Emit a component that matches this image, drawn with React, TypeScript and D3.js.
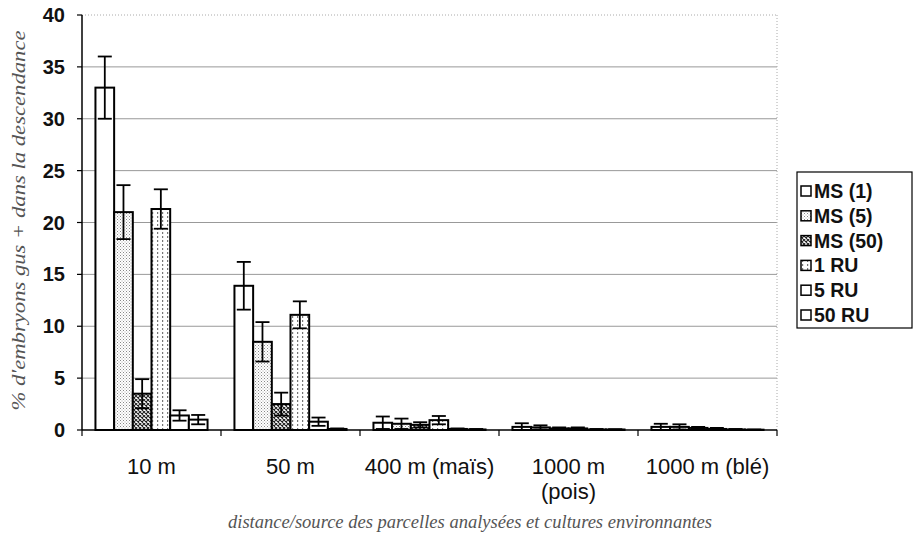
import React from "react";
import * as d3 from "d3";

const categories = ["10 m", "50 m", "400 m (maïs)", "1000 m|(pois)", "1000 m (blé)"];
const seriesNames = ["MS (1)", "MS (5)", "MS (50)", "1 RU", "5 RU", "50 RU"];
const ms1 = [33, 13.9, 0.7, 0.3, 0.3];
const ms1Err = [3, 2.3, 0.6, 0.35, 0.3];
const ms5 = [21, 8.5, 0.6, 0.25, 0.3];
const ms5Err = [2.6, 1.9, 0.5, 0.2, 0.25];
const ms50 = [3.5, 2.5, 0.5, 0.15, 0.2];
const ms50Err = [1.4, 1.1, 0.25, 0.1, 0.1];
const ru1 = [21.3, 11.1, 0.95, 0.15, 0.1];
const ru1Err = [1.9, 1.3, 0.4, 0.1, 0.1];
const ru5 = [1.4, 0.8, 0.1, 0.05, 0.05];
const ru5Err = [0.5, 0.4, 0.05, 0.05, 0.05];
const ru50 = [1.0, 0.1, 0.05, 0.05, 0.03];
const ru50Err = [0.45, 0.05, 0.05, 0.02, 0.02];
const yTicks = [0, 5, 10, 15, 20, 25, 30, 35, 40];

const seriesValues = [ms1, ms5, ms50, ru1, ru5, ru50];
const seriesErrors = [ms1Err, ms5Err, ms50Err, ru1Err, ru5Err, ru50Err];
const fills = ["#fff", "url(#pDots)", "url(#pHatch)", "url(#pVert)", "#fff", "#fff"];

export default function App() {
  const W = 916, H = 544;
  const left = 82, right = 777, top = 15, bottom = 430;
  const x0 = d3.scaleBand<string>().domain(categories).range([left, right]).padding(0);
  const x1 = d3.scaleBand<string>().domain(seriesNames).range([0, x0.bandwidth()]).paddingInner(0).paddingOuter(0.72);
  const y = d3.scaleLinear().domain([0, 40]).range([bottom, top]);
  const bw = x1.bandwidth();
  const capW = bw * 0.75;
  const sans = "'Liberation Sans', Arial, sans-serif";
  const serif = "'Liberation Serif', 'DejaVu Serif', 'Times New Roman', serif";
  const boundaries = categories.map((c) => x0(c) as number).concat([right]);

  return (
    <svg width={W} height={H} style={{ position: "absolute", left: 0, top: 0, background: "#fff" }}>
      <defs>
        <pattern id="pDots" width="3" height="3" patternUnits="userSpaceOnUse">
          <rect width="3" height="3" fill="#fff" />
          <rect x="0" y="0" width="1" height="1" fill="#888" />
          <rect x="1.5" y="1.5" width="1" height="1" fill="#aaa" />
        </pattern>
        <pattern id="pHatch" width="4" height="4" patternUnits="userSpaceOnUse">
          <rect width="4" height="4" fill="#fff" />
          <path d="M0,0 L4,4 M4,0 L0,4" stroke="#222" strokeWidth="1.1" />
        </pattern>
        <pattern id="pVert" width="5" height="4" patternUnits="userSpaceOnUse">
          <rect width="5" height="4" fill="#fff" />
          <rect x="2" y="0" width="1.2" height="2" fill="#777" />
        </pattern>
      </defs>

      {/* grid */}
      {yTicks.filter((t) => t > 0 && t < 40).map((t) => (
        <line key={t} x1={left} x2={right} y1={y(t)} y2={y(t)} stroke="#999" strokeWidth={1} />
      ))}
      <line x1={left} x2={right} y1={y(40)} y2={y(40)} stroke="#aaa" strokeWidth={1} strokeDasharray="1,2" />
      <line x1={right} x2={right} y1={y(40)} y2={bottom} stroke="#aaa" strokeWidth={1} strokeDasharray="1,2" />

      {/* bars */}
      {seriesNames.map((s, si) => (
        <g key={s}>
          {categories.map((c, ci) => {
            const v = seriesValues[si][ci];
            const e = seriesErrors[si][ci];
            const bx = (x0(c) as number) + (x1(s) as number);
            const cx = bx + bw / 2;
            return (
              <g key={c}>
                <rect x={bx} y={y(v)} width={bw} height={bottom - y(v)} fill={fills[si]} stroke="#000" strokeWidth={2} />
                <line x1={cx} x2={cx} y1={y(v + e)} y2={y(Math.max(0, v - e))} stroke="#000" strokeWidth={1.8} />
                <line x1={cx - capW / 2} x2={cx + capW / 2} y1={y(v + e)} y2={y(v + e)} stroke="#000" strokeWidth={1.8} />
                <line x1={cx - capW / 2} x2={cx + capW / 2} y1={y(Math.max(0, v - e))} y2={y(Math.max(0, v - e))} stroke="#000" strokeWidth={1.8} />
              </g>
            );
          })}
        </g>
      ))}

      {/* axes */}
      <line x1={left} x2={left} y1={top} y2={bottom} stroke="#000" strokeWidth={1.5} />
      {yTicks.map((t) => (
        <g key={t}>
          <line x1={left - 5} x2={left} y1={y(t)} y2={y(t)} stroke="#000" strokeWidth={1.2} />
          <text x={65} y={y(t) + 7} textAnchor="end" fontFamily={sans} fontWeight="bold" fontSize={20} fill="#111">{t}</text>
        </g>
      ))}
      <line x1={left} x2={right} y1={bottom} y2={bottom} stroke="#000" strokeWidth={1.5} />
      {boundaries.map((b, i) => (
        <line key={i} x1={b} x2={b} y1={bottom} y2={bottom + 6} stroke="#000" strokeWidth={1.2} />
      ))}
      {categories.map((c) => {
        const cx = (x0(c) as number) + x0.bandwidth() / 2;
        return c.split("|").map((ln, li) => (
          <text key={c + li} x={cx} y={474 + li * 25} textAnchor="middle" fontFamily={sans} fontSize={22} fill="#111">{ln}</text>
        ));
      })}

      {/* axis titles */}
      <text transform={`translate(25,${(top + bottom) / 2 - 2}) rotate(-90)`} textAnchor="middle" fontFamily={serif} fontStyle="italic" fontSize={19} fill="#555" textLength={380} lengthAdjust="spacingAndGlyphs">% d'embryons gus + dans la descendance</text>
      <text x={470} y={528} textAnchor="middle" fontFamily={serif} fontStyle="italic" fontSize={19} fill="#555" textLength={484} lengthAdjust="spacingAndGlyphs">distance/source des parcelles analysées et cultures environnantes</text>

      {/* legend */}
      <rect x={797} y={172} width={115} height={156} fill="#fff" stroke="#000" strokeWidth={1.2} />
      {seriesNames.map((s, i) => {
        const ly = 191 + i * 24.8;
        return (
          <g key={s}>
            <rect x={801} y={ly - 5} width={10} height={10} fill={fills[i]} stroke="#000" strokeWidth={1.5} />
            <text x={814} y={ly + 7} fontFamily={sans} fontWeight="bold" fontSize={19.5} fill="#111">{s}</text>
          </g>
        );
      })}
    </svg>
  );
}
